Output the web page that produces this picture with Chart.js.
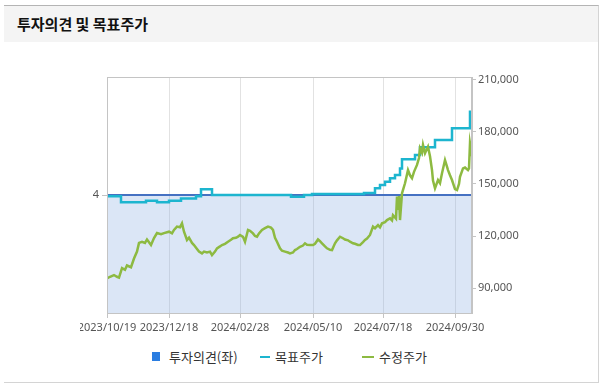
<!DOCTYPE html>
<html>
<head>
<meta charset="utf-8">
<script src="https://cdn.jsdelivr.net/npm/chart.js@4"></script>
<style>
  body { margin: 0; background: #fff; font-family: "Noto Sans CJK KR", sans-serif; }
  #box { position: absolute; left: 4px; top: 5px; width: 594px; height: 376px;
         border-top: 1px solid #b4b4b4; border-right: 1px solid #d4d4d4; border-bottom: 1px solid #d4d4d4; }
  #title { position: absolute; left: 0; top: 0; width: 594px; height: 36px; background: #f4f4f4; }
  #title span { position: absolute; left: 13px; top: 7px; font-size: 15px; font-weight: bold; color: #111; }
  #chartWrap { position: absolute; left: 80px; top: 45px; }
  .lg { position: absolute; font-size: 13px; color: #333; top: 348px; line-height: 18px; }
  .mark { position: absolute; }
</style>
</head>
<body>
<div id="box"><div id="title"><span>투자의견 및 목표주가</span></div></div>
<div id="chartWrap"><canvas id="opinionChart" width="520" height="300"></canvas></div>
<div id="legend"></div>

<script>
  // x 값은 2023/10/19 부터의 일수
  const tickDays = [0, 62, 133, 206, 276, 348];
  const tickLabels = ["2023/10/19", "2023/12/18", "2024/02/28", "2024/05/10", "2024/07/18", "2024/09/30"];
  const priceTicks = [90000, 120000, 150000, 180000, 210000];
  const seriesNames = ["투자의견(좌)", "목표주가", "수정주가"];

  // 투자의견
  const opinionDays = [0, 365];
  const opinionValues = [4, 4];

  // 목표주가
  const targetDays = [0, 14, 39, 50, 62, 74, 89, 94, 105, 184, 197, 205, 257, 268, 273, 278, 283, 288, 293, 295, 308, 313, 328, 345, 363, 365];
  const targetValues = [143000, 139400, 140400, 139400, 140400, 141700, 143000, 147000, 143600, 142600, 143600, 144200, 144800,
    147500, 149400, 151300, 153300, 155200, 159000, 164200, 166700, 171200, 175400, 182100, 191700, 191700];

  // 수정주가
  const priceDays = [0, 3, 7, 10, 12, 15, 18, 20, 24, 27, 30, 32, 35, 38, 40, 44, 47, 50, 54, 57, 62, 65, 67, 70, 73, 75, 77, 80, 82, 85,
    87, 90, 92, 95, 97, 100, 103, 105, 108, 110, 113, 115, 118, 121, 124, 126, 129, 131, 133, 136, 138, 141, 143, 146, 148, 150,
    152, 155, 158, 161, 164, 166, 168, 170, 173, 175, 178, 181, 183, 186, 188, 190, 193, 196, 198, 200, 203, 206, 208, 211, 213,
    215, 218, 220, 223, 225, 228, 230, 233, 236, 238, 241, 243, 246, 248, 251, 253, 256, 258, 260, 263, 266, 268, 271, 273, 275,
    278, 280, 283, 285, 286, 289, 290, 291, 292, 293, 295, 298, 301, 303, 305, 307, 310, 312, 313, 315, 316, 318, 321, 323, 325,
    326, 328, 331, 333, 335, 338, 340, 341, 343, 345, 348, 350, 352, 353, 356, 358, 361, 362, 363, 364, 365];
  const priceValues = [95600, 96500, 97500, 96500, 96000, 101500, 100500, 103000, 102000, 107000, 111000, 116000, 116700, 116000,
    118000, 114800, 118800, 121700, 121000, 121700, 122500, 121500, 123500, 125400, 125000, 127300, 122500, 117700, 119000, 116000,
    114800, 112500, 111000, 110000, 111000, 110500, 111000, 109000, 111000, 112900, 114000, 114800, 115500, 116700, 117800, 118700,
    119000, 119600, 120600, 119500, 116700, 123500, 123000, 121500, 120000, 119600, 121500, 123500, 124500, 125400, 124800, 123500,
    119000, 116700, 112900, 111500, 111000, 110500, 110000, 110500, 111900, 112500, 113800, 114500, 115800, 115000, 114800, 114800,
    115500, 118000, 117000, 115800, 114000, 112900, 112000, 111900, 115800, 117500, 119600, 118700, 118000, 117500, 116700, 115800,
    115500, 114800, 114800, 116500, 117700, 118500, 120600, 125400, 124500, 126300, 125000, 127300, 128000, 129200, 130200, 129000,
    132000, 130000, 142700, 135000, 143000, 129200, 144600, 150400, 158000, 155000, 153300, 157000, 161000, 165000, 170600, 168000,
    172500, 167700, 171500, 166000, 158000, 152000, 147500, 152300, 150500, 156200, 163800, 160000, 158000, 155000, 152300, 147000,
    146500, 150000, 154200, 159000, 159500, 158000, 159000, 173500, 170000, 174000];

  const colors = ["#2a7de1", "#1db5cf", "#8dba41"];

  function pts(xs, ys) {
    return xs.map((x, i) => ({ x: x, y: ys[i] }));
  }

  // 차트 영역 테두리
  const frame = {
    id: "frame",
    afterDraw(chart) {
      const a = chart.chartArea, c = chart.ctx;
      c.save();
      c.strokeStyle = "#c4c4c4";
      c.lineWidth = 1;
      c.strokeRect(a.left + 0.5, a.top + 0.5, a.right - a.left - 1, a.bottom - a.top);
      c.restore();
    }
  };

  Chart.defaults.font.family = "'Noto Sans', 'Noto Sans CJK KR', sans-serif";
  Chart.defaults.font.size = 11;
  Chart.defaults.color = "#555";

  new Chart(document.getElementById("opinionChart"), {
    type: "line",
    data: {
      datasets: [
        {
          label: seriesNames[2],
          data: pts(priceDays, priceValues),
          yAxisID: "yPrice",
          borderColor: colors[2],
          borderWidth: 2.5,
          pointRadius: 0,
          tension: 0,
          order: 1
        },
        {
          label: seriesNames[1],
          data: pts(targetDays, targetValues),
          yAxisID: "yPrice",
          borderColor: colors[1],
          borderWidth: 2.5,
          pointRadius: 0,
          stepped: "before",
          order: 2
        },
        {
          label: seriesNames[0],
          data: pts(opinionDays, opinionValues),
          yAxisID: "yOpinion",
          borderColor: "#4571c2",
          backgroundColor: "rgba(135,172,225,0.3)",
          borderWidth: 2,
          pointRadius: 0,
          fill: "origin",
          order: 3
        }
      ]
    },
    options: {
      responsive: false,
      animation: false,
      layout: { padding: { left: 0, right: 68, top: 32, bottom: 2 } },
      plugins: {
        legend: { display: false },
        tooltip: { enabled: false }
      },
      scales: {
        x: {
          type: "linear",
          min: 0,
          max: 365,
          afterBuildTicks: (axis) => { axis.ticks = tickDays.map(v => ({ value: v })); },
          afterFit: (axis) => { axis.height = 30; axis.paddingLeft = 0; axis.paddingRight = 0; },
          ticks: {
            autoSkip: false,
            maxRotation: 0,
            padding: 3,
            callback: (v) => tickLabels[tickDays.indexOf(v)]
          },
          grid: { color: "#e2e2e2", tickLength: 5, tickColor: "#c4c4c4" },
          border: { color: "#c4c4c4" }
        },
        yOpinion: {
          position: "left",
          min: 0,
          max: 8,
          afterBuildTicks: (axis) => { axis.ticks = [{ value: 4 }]; },
          afterFit: (axis) => { axis.width = 27; },
          ticks: { padding: 3 },
          grid: { drawOnChartArea: false, tickLength: 5, tickColor: "#c4c4c4" },
          border: { color: "#c4c4c4" }
        },
        yPrice: {
          position: "right",
          min: 75600,
          max: 211700,
          afterBuildTicks: (axis) => { axis.ticks = priceTicks.map(v => ({ value: v })); },
          afterFit: (axis) => { axis.width = 60; },
          ticks: {
            padding: 2,
            callback: (v) => v.toLocaleString("en-US")
          },
          grid: { drawOnChartArea: false, tickLength: 4, tickColor: "#c4c4c4" },
          border: { color: "#c4c4c4" }
        }
      }
    },
    plugins: [frame]
  });

  // 범례
  const legend = document.getElementById("legend");
  const items = [
    { mark: { left: 152, top: 352, width: 8, height: 9 }, text: 169 },
    { mark: { left: 260, top: 356, width: 10, height: 2 }, text: 275 },
    { mark: { left: 362, top: 356, width: 12, height: 2 }, text: 379 }
  ];
  items.forEach((it, i) => {
    const m = document.createElement("div");
    m.className = "mark";
    m.style.left = it.mark.left + "px";
    m.style.top = it.mark.top + "px";
    m.style.width = it.mark.width + "px";
    m.style.height = it.mark.height + "px";
    m.style.background = colors[i];
    legend.appendChild(m);
    const t = document.createElement("div");
    t.className = "lg";
    t.style.left = it.text + "px";
    t.textContent = seriesNames[i];
    legend.appendChild(t);
  });
</script>
</body>
</html>
